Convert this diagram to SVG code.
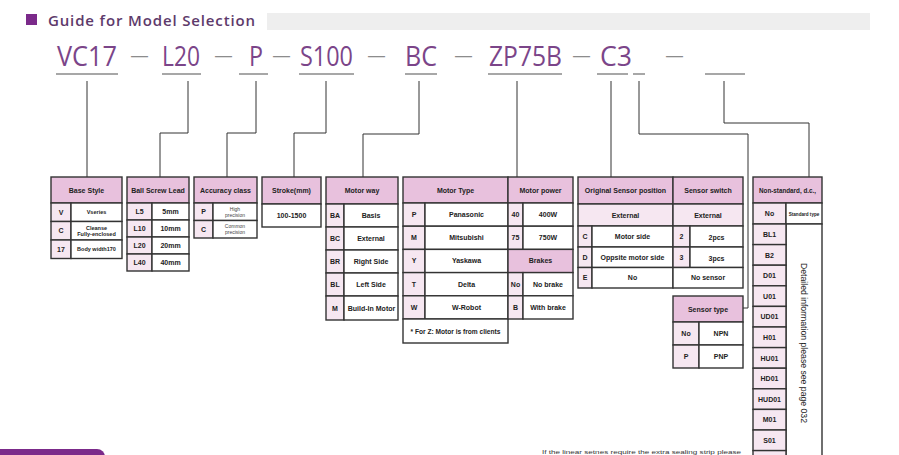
<svg xmlns="http://www.w3.org/2000/svg" width="899" height="455" viewBox="0 0 899 455">
<style>
.hd{fill:#e8c1dd;stroke:#333;stroke-width:1.4}
.lt{fill:#f6e7f1;stroke:#333;stroke-width:1.4}
.wt{fill:#ffffff;stroke:#333;stroke-width:1.4}
.t{font-family:"Liberation Sans",Arial,sans-serif;font-weight:bold;font-size:7px;fill:#222;text-anchor:middle}
.s{font-family:"Liberation Sans",Arial,sans-serif;font-weight:bold;font-size:5.5px;fill:#222;text-anchor:middle}
.n{font-family:"Liberation Sans",Arial,sans-serif;font-size:5px;fill:#444;text-anchor:middle}
.code{font-family:"Open Sans","Noto Sans",sans-serif;font-size:28px;fill:#7b4589}
.dash{font-family:"Liberation Sans",Arial,sans-serif;font-size:17px;fill:#8c8c8c;text-anchor:middle}
.ul{stroke:#8a8a8a;stroke-width:1.5}
.cn{fill:none;stroke:#333;stroke-width:1}
</style>
<rect width="899" height="455" fill="#ffffff"/>
<g id="title">
<rect x="26" y="14" width="11" height="11" fill="#7b2a8a"/>
<text x="48" y="26" font-family="'Open Sans','Noto Sans',sans-serif" font-size="15" font-weight="600" fill="#5e3a6b" textLength="207" lengthAdjust="spacing">Guide for Model Selection</text>
<rect x="267" y="13" width="603" height="17" fill="#eeeeee"/>
</g>
<g id="model-code">
<text class="code" x="57" y="66" textLength="60" lengthAdjust="spacingAndGlyphs">VC17</text>
<text class="code" x="162" y="66" textLength="38" lengthAdjust="spacingAndGlyphs">L20</text>
<text class="code" x="249" y="66" textLength="14" lengthAdjust="spacingAndGlyphs">P</text>
<text class="code" x="300" y="66" textLength="53" lengthAdjust="spacingAndGlyphs">S100</text>
<text class="code" x="405" y="66" textLength="32" lengthAdjust="spacingAndGlyphs">BC</text>
<text class="code" x="489" y="66" textLength="73" lengthAdjust="spacingAndGlyphs">ZP75B</text>
<text class="code" x="600" y="66" textLength="32" lengthAdjust="spacingAndGlyphs">C3</text>
<text class="dash" x="139.5" y="61">—</text>
<text class="dash" x="223.5" y="61">—</text>
<text class="dash" x="281.5" y="61">—</text>
<text class="dash" x="376.5" y="61">—</text>
<text class="dash" x="463.5" y="61">—</text>
<text class="dash" x="581.5" y="61">—</text>
<text class="dash" x="674.5" y="61">—</text>
<line class="ul" x1="56" y1="74" x2="118" y2="74"/>
<line class="ul" x1="162" y1="74" x2="201" y2="74"/>
<line class="ul" x1="239" y1="74" x2="268" y2="74"/>
<line class="ul" x1="299" y1="74" x2="354" y2="74"/>
<line class="ul" x1="405" y1="74" x2="437" y2="74"/>
<line class="ul" x1="488" y1="74" x2="562" y2="74"/>
<line class="ul" x1="597" y1="74" x2="628" y2="74"/>
<line class="ul" x1="633" y1="74" x2="645" y2="74"/>
<line class="ul" x1="705" y1="74" x2="745" y2="74"/>
</g>
<g id="connectors">
<path class="cn" d="M87 81V177"/>
<path class="cn" d="M188 81V133H160V177"/>
<path class="cn" d="M256 81V133H227V177"/>
<path class="cn" d="M326 81V133H294V177"/>
<path class="cn" d="M419 81V134H363V177"/>
<path class="cn" d="M517 81V177"/>
<path class="cn" d="M611 81V177"/>
<path class="cn" d="M639 81V134H748V308H743"/>
<path class="cn" d="M724 81V123H809V177"/>
</g>
<g id="base-style">
<rect class="hd" x="51" y="177" width="71" height="26"/>
<text class="t" x="86.5" y="192.5">Base Style</text>
<rect class="lt" x="51" y="203" width="20" height="18.5"/><rect class="wt" x="71" y="203" width="51" height="18.5"/>
<text class="t" x="61" y="214.7">V</text><text class="s" x="96.5" y="214.3">Vseries</text>
<rect class="lt" x="51" y="221.5" width="20" height="18.5"/><rect class="wt" x="71" y="221.5" width="51" height="18.5"/>
<text class="t" x="61" y="233.2">C</text><text class="s" x="96.5" y="229.6">Cleanse</text><text class="s" x="96.5" y="236.4">Fully-enclosed</text>
<rect class="lt" x="51" y="240" width="20" height="18.5"/><rect class="wt" x="71" y="240" width="51" height="18.5"/>
<text class="t" x="61" y="251.7">17</text><text class="s" x="96.5" y="251.3">Body width170</text>
</g>
<g id="ball-screw-lead">
<rect class="hd" x="127" y="177" width="62" height="26"/>
<text class="t" x="158" y="192.5">Ball Screw Lead</text>
<rect class="lt" x="127" y="203" width="25" height="17"/><rect class="wt" x="152" y="203" width="37" height="17"/>
<text class="t" x="139.5" y="214">L5</text><text class="t" x="170.5" y="214">5mm</text>
<rect class="lt" x="127" y="220" width="25" height="17"/><rect class="wt" x="152" y="220" width="37" height="17"/>
<text class="t" x="139.5" y="231">L10</text><text class="t" x="170.5" y="231">10mm</text>
<rect class="lt" x="127" y="237" width="25" height="17"/><rect class="wt" x="152" y="237" width="37" height="17"/>
<text class="t" x="139.5" y="248">L20</text><text class="t" x="170.5" y="248">20mm</text>
<rect class="lt" x="127" y="254" width="25" height="17"/><rect class="wt" x="152" y="254" width="37" height="17"/>
<text class="t" x="139.5" y="265">L40</text><text class="t" x="170.5" y="265">40mm</text>
</g>
<g id="accuracy-class">
<rect class="hd" x="194" y="177" width="63" height="26"/>
<text class="t" x="225.5" y="192.5">Accuracy class</text>
<rect class="lt" x="194" y="203" width="19" height="17.5"/><rect class="wt" x="213" y="203" width="44" height="17.5"/>
<text class="t" x="203.5" y="214.2">P</text><text class="n" x="235" y="210.5">High</text><text class="n" x="235" y="216.5">precision</text>
<rect class="lt" x="194" y="220.5" width="19" height="17.5"/><rect class="wt" x="213" y="220.5" width="44" height="17.5"/>
<text class="t" x="203.5" y="231.7">C</text><text class="n" x="235" y="228">Common</text><text class="n" x="235" y="234">precision</text>
</g>
<g id="stroke">
<rect class="hd" x="262" y="177" width="59" height="27"/>
<text class="t" x="291.5" y="193">Stroke(mm)</text>
<rect class="wt" x="262" y="204" width="59" height="23"/>
<text class="t" x="291.5" y="218">100-1500</text>
</g>
<g id="motor-way">
<rect class="hd" x="326" y="177" width="72" height="27"/>
<text class="t" x="362" y="193">Motor way</text>
<rect class="lt" x="326" y="204" width="18" height="23"/><rect class="wt" x="344" y="204" width="54" height="23"/>
<text class="t" x="335" y="218">BA</text><text class="t" x="371" y="218">Basis</text>
<rect class="lt" x="326" y="227" width="18" height="23"/><rect class="wt" x="344" y="227" width="54" height="23"/>
<text class="t" x="335" y="241">BC</text><text class="t" x="371" y="241">External</text>
<rect class="lt" x="326" y="250" width="18" height="23"/><rect class="wt" x="344" y="250" width="54" height="23"/>
<text class="t" x="335" y="264">BR</text><text class="t" x="371" y="264">Right Side</text>
<rect class="lt" x="326" y="273" width="18" height="23"/><rect class="wt" x="344" y="273" width="54" height="23"/>
<text class="t" x="335" y="287">BL</text><text class="t" x="371" y="287">Left Side</text>
<rect class="lt" x="326" y="296" width="18" height="24"/><rect class="wt" x="344" y="296" width="54" height="24"/>
<text class="t" x="335" y="310.5">M</text><text class="t" x="371.5" y="310.5">Build-In Motor</text>
</g>
<g id="motor-type">
<rect class="hd" x="403" y="177" width="105" height="26"/>
<text class="t" x="455.5" y="192.5">Motor Type</text>
<rect class="lt" x="403" y="203" width="22" height="23.2"/><rect class="wt" x="425" y="203" width="83" height="23.2"/>
<text class="t" x="414" y="217">P</text><text class="t" x="466.5" y="217">Panasonic</text>
<rect class="lt" x="403" y="226.2" width="22" height="23.2"/><rect class="wt" x="425" y="226.2" width="83" height="23.2"/>
<text class="t" x="414" y="240.2">M</text><text class="t" x="466.5" y="240.2">Mitsubishi</text>
<rect class="lt" x="403" y="249.4" width="22" height="23.2"/><rect class="wt" x="425" y="249.4" width="83" height="23.2"/>
<text class="t" x="414" y="263.4">Y</text><text class="t" x="466.5" y="263.4">Yaskawa</text>
<rect class="lt" x="403" y="272.6" width="22" height="23.2"/><rect class="wt" x="425" y="272.6" width="83" height="23.2"/>
<text class="t" x="414" y="286.6">T</text><text class="t" x="466.5" y="286.6">Delta</text>
<rect class="lt" x="403" y="295.8" width="22" height="23.2"/><rect class="wt" x="425" y="295.8" width="83" height="23.2"/>
<text class="t" x="414" y="309.8">W</text><text class="t" x="466.5" y="309.8">W-Robot</text>
<rect class="wt" x="403" y="319" width="105" height="24"/>
<text class="s" x="455.5" y="333.5" style="font-size:6.6px">* For Z: Motor is from clients</text>
</g>
<g id="motor-power">
<rect class="hd" x="508" y="177" width="65" height="26"/>
<text class="t" x="540.5" y="192.5">Motor power</text>
<rect class="lt" x="508" y="203" width="15" height="23.2"/><rect class="wt" x="523" y="203" width="50" height="23.2"/>
<text class="t" x="515.5" y="217">40</text><text class="t" x="548" y="217">400W</text>
<rect class="lt" x="508" y="226.2" width="15" height="23.2"/><rect class="wt" x="523" y="226.2" width="50" height="23.2"/>
<text class="t" x="515.5" y="240.2">75</text><text class="t" x="548" y="240.2">750W</text>
</g>
<g id="brakes">
<rect class="hd" x="508" y="249.4" width="65" height="23.2"/>
<text class="t" x="540.5" y="263.4">Brakes</text>
<rect class="lt" x="508" y="272.6" width="15" height="23.2"/><rect class="wt" x="523" y="272.6" width="50" height="23.2"/>
<text class="t" x="515.5" y="286.6">No</text><text class="t" x="548" y="286.6">No brake</text>
<rect class="lt" x="508" y="295.8" width="15" height="23.2"/><rect class="wt" x="523" y="295.8" width="50" height="23.2"/>
<text class="t" x="515.5" y="309.8">B</text><text class="t" x="548" y="309.8">With brake</text>
</g>
<g id="original-sensor-position">
<rect class="hd" x="578" y="177" width="95" height="27"/>
<text class="t" x="625.5" y="193">Original Sensor position</text>
<rect class="lt" x="578" y="204" width="95" height="22"/>
<text class="t" x="625.5" y="217.5">External</text>
<rect class="lt" x="578" y="226" width="14" height="21"/><rect class="wt" x="592" y="226" width="81" height="21"/>
<text class="t" x="585" y="239">C</text><text class="t" x="632.5" y="239">Motor side</text>
<rect class="lt" x="578" y="247" width="14" height="20.5"/><rect class="wt" x="592" y="247" width="81" height="20.5"/>
<text class="t" x="585" y="259.7">D</text><text class="t" x="632.5" y="259.7">Oppsite motor side</text>
<rect class="lt" x="578" y="267.5" width="14" height="20.5"/><rect class="wt" x="592" y="267.5" width="81" height="20.5"/>
<text class="t" x="585" y="280.2">E</text><text class="t" x="632.5" y="279.5">No</text>
</g>
<g id="sensor-switch">
<rect class="hd" x="673" y="177" width="70" height="27"/>
<text class="t" x="708" y="193">Sensor switch</text>
<rect class="lt" x="673" y="204" width="70" height="22"/>
<text class="t" x="708" y="217.5">External</text>
<rect class="lt" x="673" y="226" width="17" height="21"/><rect class="wt" x="690" y="226" width="53" height="21"/>
<text class="t" x="681.5" y="239">2</text><text class="t" x="716.5" y="239.5">2pcs</text>
<rect class="lt" x="673" y="247" width="17" height="20.5"/><rect class="wt" x="690" y="247" width="53" height="20.5"/>
<text class="t" x="681.5" y="260">3</text><text class="t" x="716.5" y="260.5">3pcs</text>
<rect class="wt" x="673" y="267.5" width="70" height="20.5"/>
<text class="t" x="708" y="280.2">No sensor</text>
</g>
<g id="sensor-type">
<rect class="hd" x="673" y="296" width="70" height="26"/>
<text class="t" x="708" y="311.5">Sensor type</text>
<rect class="lt" x="673" y="322" width="26" height="23"/><rect class="wt" x="699" y="322" width="44" height="23"/>
<text class="t" x="686" y="336">No</text><text class="t" x="721" y="336">NPN</text>
<rect class="lt" x="673" y="345" width="26" height="23"/><rect class="wt" x="699" y="345" width="44" height="23"/>
<text class="t" x="686" y="359">P</text><text class="t" x="721" y="359">PNP</text>
</g>
<g id="non-standard">
<rect class="hd" x="753" y="177" width="69" height="26"/>
<text class="t" x="787.5" y="192.5" style="font-size:6.3px">Non-standard, d.c.,</text>
<rect class="lt" x="753" y="203" width="33" height="21"/><rect class="wt" x="786" y="203" width="36" height="21"/>
<text class="t" x="769.5" y="216">No</text><text class="s" x="804" y="215.5" style="font-size:4.6px">Standard type</text>
<rect class="wt" x="786" y="224" width="36" height="240"/>
<text x="0" y="3" transform="translate(804,343) rotate(90)" font-family="'Liberation Sans',Arial,sans-serif" font-size="8.5" fill="#222" text-anchor="middle" textLength="160" lengthAdjust="spacingAndGlyphs">Detailed information please see page 032</text>
<rect class="lt" x="753" y="224" width="33" height="20.6"/><text class="t" x="769.5" y="237">BL1</text>
<rect class="lt" x="753" y="244.6" width="33" height="20.6"/><text class="t" x="769.5" y="257.6">B2</text>
<rect class="lt" x="753" y="265.2" width="33" height="20.6"/><text class="t" x="769.5" y="278.2">D01</text>
<rect class="lt" x="753" y="285.8" width="33" height="20.6"/><text class="t" x="769.5" y="298.8">U01</text>
<rect class="lt" x="753" y="306.4" width="33" height="20.6"/><text class="t" x="769.5" y="319.4">UD01</text>
<rect class="lt" x="753" y="327" width="33" height="20.6"/><text class="t" x="769.5" y="340">H01</text>
<rect class="lt" x="753" y="347.6" width="33" height="20.6"/><text class="t" x="769.5" y="360.6">HU01</text>
<rect class="lt" x="753" y="368.2" width="33" height="20.6"/><text class="t" x="769.5" y="381.2">HD01</text>
<rect class="lt" x="753" y="388.8" width="33" height="20.6"/><text class="t" x="769.5" y="401.8">HUD01</text>
<rect class="lt" x="753" y="409.4" width="33" height="20.6"/><text class="t" x="769.5" y="422.4">M01</text>
<rect class="lt" x="753" y="430" width="33" height="20.6"/><text class="t" x="769.5" y="443">S01</text>
<rect class="lt" x="753" y="450.6" width="33" height="20.6"/>
</g>
<g id="footer">
<rect x="-8" y="449" width="113" height="20" rx="8" fill="#7b2a8a"/>
<text x="542" y="454" font-family="'Liberation Sans',Arial,sans-serif" font-size="5.6" fill="#333" textLength="199" lengthAdjust="spacingAndGlyphs">If the linear setnes require the extra sealing strip please</text>
</g>
</svg>
